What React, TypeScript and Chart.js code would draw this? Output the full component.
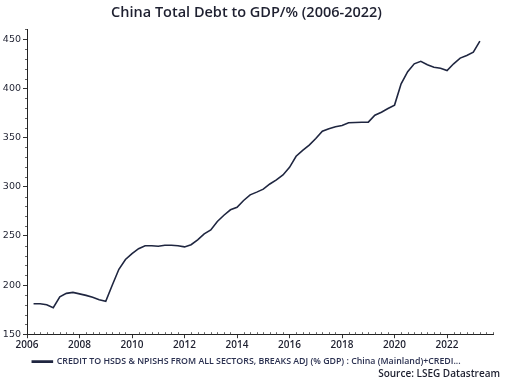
import React, { useEffect, useRef } from "react";
import { Chart, registerables } from "chart.js";

Chart.register(...registerables);

const titleText = "China Total Debt to GDP/% (2006-2022)";
const seriesLabel =
  "CREDIT TO HSDS & NPISHS FROM ALL SECTORS, BREAKS ADJ (% GDP) : China (Mainland)+CREDI...";
const sourceText = "Source: LSEG Datastream";

const quarters = [
  "2006-Q2", "2006-Q3", "2006-Q4",
  "2007-Q1", "2007-Q2", "2007-Q3", "2007-Q4",
  "2008-Q1", "2008-Q2", "2008-Q3", "2008-Q4",
  "2009-Q1", "2009-Q2", "2009-Q3", "2009-Q4",
  "2010-Q1", "2010-Q2", "2010-Q3", "2010-Q4",
  "2011-Q1", "2011-Q2", "2011-Q3", "2011-Q4",
  "2012-Q1", "2012-Q2", "2012-Q3", "2012-Q4",
  "2013-Q1", "2013-Q2", "2013-Q3", "2013-Q4",
  "2014-Q1", "2014-Q2", "2014-Q3", "2014-Q4",
  "2015-Q1", "2015-Q2", "2015-Q3", "2015-Q4",
  "2016-Q1", "2016-Q2", "2016-Q3", "2016-Q4",
  "2017-Q1", "2017-Q2", "2017-Q3", "2017-Q4",
  "2018-Q1", "2018-Q2", "2018-Q3", "2018-Q4",
  "2019-Q1", "2019-Q2", "2019-Q3", "2019-Q4",
  "2020-Q1", "2020-Q2", "2020-Q3", "2020-Q4",
  "2021-Q1", "2021-Q2", "2021-Q3", "2021-Q4",
  "2022-Q1", "2022-Q2", "2022-Q3", "2022-Q4",
  "2023-Q1", "2023-Q2",
];

const debtToGdp = [
  181, 181, 180,
  177, 188, 191.5, 192.5,
  191, 189.5, 187.5, 185,
  183.5, 200, 216, 226,
  232, 237, 240, 240,
  239.5, 240.5, 240.5, 240,
  238.8, 241, 246, 252,
  256, 264.7, 271, 276.5,
  279, 286, 291.7, 294.5,
  297.5, 302.8, 307, 312,
  319.7, 331, 337, 342.3,
  349, 356.4, 359, 361,
  362.3, 365, 365.3, 365.5,
  365.7, 372.7, 375.8, 379.5,
  383, 404.6, 417, 425,
  427.6, 424, 421.5, 420.5,
  418.2, 425, 430.8, 433.5,
  436.8, 448,
];

const xTickYears = [2006, 2008, 2010, 2012, 2014, 2016, 2018, 2020, 2022];
const yTickValues = [150, 200, 250, 300, 350, 400, 450];
const xRange = [2006, 2023.75];
const yRange = [150, 460];

const LINE_COLOR = "#1f2640";
const TEXT_COLOR = "#1e2030";

function quarterToYear(q: string): number {
  const [y, qq] = q.split("-Q");
  return Number(y) + (Number(qq) - 1) / 4;
}

const minorTicksPlugin = {
  id: "minorTicks",
  afterDraw(chart: any) {
    const { ctx, chartArea } = chart;
    const x = chart.scales.x;
    const y = chart.scales.y;
    ctx.save();
    ctx.strokeStyle = "#666";
    ctx.lineWidth = 1;
    ctx.beginPath();
    for (let i = xRange[0] * 4; i <= xRange[1] * 4; i++) {
      const v = i / 4;
      if (xTickYears.includes(v)) continue;
      const px = Math.round(x.getPixelForValue(v)) + 0.5;
      ctx.moveTo(px, chartArea.bottom);
      ctx.lineTo(px, chartArea.bottom - 2);
    }
    for (let v = yRange[0]; v <= yRange[1]; v += 10) {
      if (yTickValues.includes(v)) continue;
      const py = Math.round(y.getPixelForValue(v)) + 0.5;
      ctx.moveTo(chartArea.left, py);
      ctx.lineTo(chartArea.left - 2, py);
    }
    ctx.stroke();
    ctx.fillStyle = TEXT_COLOR;
    ctx.font = "600 10px 'Open Sans'";
    ctx.textAlign = "right";
    ctx.textBaseline = "middle";
    ctx.fillText(sourceText, chart.width - 10, chart.height - 8);
    ctx.restore();
  },
};

export default function App() {
  const ref = useRef<HTMLCanvasElement | null>(null);

  useEffect(() => {
    if (!ref.current) return;
    const chart = new Chart(ref.current, {
      type: "line",
      data: {
        datasets: [
          {
            label: seriesLabel,
            data: quarters.map((q, i) => ({ x: quarterToYear(q), y: debtToGdp[i] })),
            borderColor: LINE_COLOR,
            backgroundColor: LINE_COLOR,
            borderWidth: 1.6,
            pointRadius: 0,
            tension: 0,
          },
        ],
      },
      options: {
        animation: false,
        responsive: false,
        maintainAspectRatio: false,
        layout: { padding: { top: 0, right: 17, bottom: 6, left: 0 } },
        plugins: {
          title: {
            display: true,
            text: titleText,
            color: TEXT_COLOR,
            font: { family: "'Open Sans'", size: 14.5, weight: "600" },
            padding: { top: 4, bottom: 8 },
          },
          legend: {
            display: true,
            position: "bottom",
            align: "center",
            labels: {
              boxWidth: 20,
              boxHeight: 1,
              padding: 4,
              color: "#2a3050",
              font: { family: "'Open Sans'", size: 8.8, weight: "600" },
            },
          },
          tooltip: { enabled: false },
        },
        scales: {
          x: {
            type: "linear",
            min: xRange[0],
            max: xRange[1],
            afterFit: (s: any) => {
              s.height = 19;
            },
            afterBuildTicks: (s: any) => {
              s.ticks = xTickYears.map((v) => ({ value: v }));
            },
            ticks: {
              autoSkip: false,
              maxRotation: 0,
              padding: 1,
              color: TEXT_COLOR,
              font: { family: "'Open Sans'", size: 10, weight: "600" },
              callback: (v: any) => String(v),
            },
            grid: {
              drawOnChartArea: false,
              drawTicks: true,
              tickLength: 4,
              color: "#333",
            },
            border: { display: true, color: "#222", width: 1 },
          },
          y: {
            type: "linear",
            min: yRange[0],
            max: yRange[1],
            afterFit: (s: any) => {
              s.width = 27;
            },
            afterBuildTicks: (s: any) => {
              s.ticks = yTickValues.map((v) => ({ value: v }));
            },
            ticks: {
              padding: 2,
              color: TEXT_COLOR,
              font: { family: "'DejaVu Sans'", size: 9.5 },
              callback: (v: any) => String(v),
            },
            grid: {
              drawOnChartArea: false,
              drawTicks: true,
              tickLength: 4,
              color: "#333",
            },
            border: { display: true, color: "#222", width: 1 },
          },
        },
      },
      plugins: [minorTicksPlugin],
    });
    return () => chart.destroy();
  }, []);

  return (
    <div style={{ position: "absolute", left: 0, top: 0, width: 510, height: 382, background: "#fff" }}>
      <canvas ref={ref} width={510} height={382} />
    </div>
  );
}
